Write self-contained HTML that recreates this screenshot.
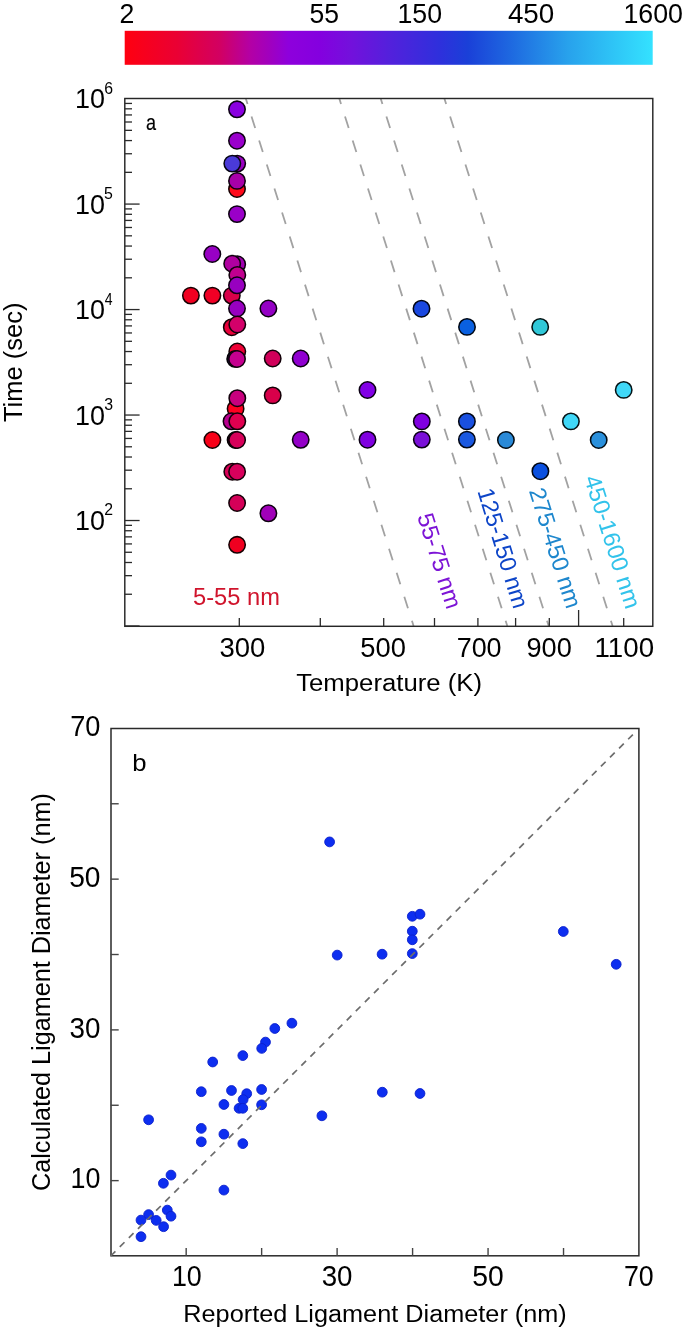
<!DOCTYPE html>
<html><head><meta charset="utf-8"><title>Figure</title>
<style>html,body{margin:0;padding:0;background:#fff;}body{width:685px;height:1330px;overflow:hidden;font-family:"Liberation Sans",sans-serif;}svg{display:block;will-change:transform;}</style>
</head><body>
<svg width="685" height="1330" viewBox="0 0 685 1330">
<rect width="685" height="1330" fill="#fff"/>
<defs><linearGradient id="cb" x1="0" x2="1" y1="0" y2="0">
<stop offset="0" stop-color="#ff0010"/>
<stop offset="0.1" stop-color="#ea0034"/>
<stop offset="0.18" stop-color="#d20062"/>
<stop offset="0.237" stop-color="#b400a4"/>
<stop offset="0.275" stop-color="#a000bf"/>
<stop offset="0.31" stop-color="#8e00dc"/>
<stop offset="0.37" stop-color="#8400df"/>
<stop offset="0.426" stop-color="#7410dc"/>
<stop offset="0.5" stop-color="#5420dc"/>
<stop offset="0.597" stop-color="#2e30dc"/>
<stop offset="0.65" stop-color="#1a40d8"/>
<stop offset="0.73" stop-color="#1e68e0"/>
<stop offset="0.84" stop-color="#28a2ec"/>
<stop offset="1.0" stop-color="#34e2ff"/>
</linearGradient></defs>
<rect x="124.7" y="30.8" width="528" height="34" fill="url(#cb)"/>
<line x1="245.8" y1="98.6" x2="413.6" y2="626.0" stroke="#a2a2a2" stroke-width="1.8" stroke-dasharray="12.1 13.1" stroke-dashoffset="6.4"/>
<line x1="339.3" y1="98.6" x2="507.3" y2="626.0" stroke="#a2a2a2" stroke-width="1.8" stroke-dasharray="12.1 13.1" stroke-dashoffset="6.4"/>
<line x1="380.7" y1="98.6" x2="548.7" y2="626.0" stroke="#a2a2a2" stroke-width="1.8" stroke-dasharray="12.1 13.1" stroke-dashoffset="6.4"/>
<line x1="444.4" y1="98.6" x2="612.6" y2="626.0" stroke="#a2a2a2" stroke-width="1.8" stroke-dasharray="12.1 13.1" stroke-dashoffset="6.4"/>
<rect x="124.8" y="98.5" width="528" height="527.8" fill="none" stroke="#262626" stroke-width="1.45"/>
<line x1="125.0" y1="626.00" x2="139.6" y2="626.00" stroke="#2a2a2a" stroke-width="1.3"/>
<line x1="125.0" y1="594.25" x2="132.0" y2="594.25" stroke="#2a2a2a" stroke-width="1.3"/>
<line x1="125.0" y1="575.67" x2="132.0" y2="575.67" stroke="#2a2a2a" stroke-width="1.3"/>
<line x1="125.0" y1="562.49" x2="132.0" y2="562.49" stroke="#2a2a2a" stroke-width="1.3"/>
<line x1="125.0" y1="552.27" x2="132.0" y2="552.27" stroke="#2a2a2a" stroke-width="1.3"/>
<line x1="125.0" y1="543.92" x2="132.0" y2="543.92" stroke="#2a2a2a" stroke-width="1.3"/>
<line x1="125.0" y1="536.86" x2="132.0" y2="536.86" stroke="#2a2a2a" stroke-width="1.3"/>
<line x1="125.0" y1="530.74" x2="132.0" y2="530.74" stroke="#2a2a2a" stroke-width="1.3"/>
<line x1="125.0" y1="525.35" x2="132.0" y2="525.35" stroke="#2a2a2a" stroke-width="1.3"/>
<line x1="125.0" y1="520.52" x2="139.6" y2="520.52" stroke="#2a2a2a" stroke-width="1.3"/>
<line x1="125.0" y1="488.77" x2="132.0" y2="488.77" stroke="#2a2a2a" stroke-width="1.3"/>
<line x1="125.0" y1="470.19" x2="132.0" y2="470.19" stroke="#2a2a2a" stroke-width="1.3"/>
<line x1="125.0" y1="457.01" x2="132.0" y2="457.01" stroke="#2a2a2a" stroke-width="1.3"/>
<line x1="125.0" y1="446.79" x2="132.0" y2="446.79" stroke="#2a2a2a" stroke-width="1.3"/>
<line x1="125.0" y1="438.44" x2="132.0" y2="438.44" stroke="#2a2a2a" stroke-width="1.3"/>
<line x1="125.0" y1="431.38" x2="132.0" y2="431.38" stroke="#2a2a2a" stroke-width="1.3"/>
<line x1="125.0" y1="425.26" x2="132.0" y2="425.26" stroke="#2a2a2a" stroke-width="1.3"/>
<line x1="125.0" y1="419.87" x2="132.0" y2="419.87" stroke="#2a2a2a" stroke-width="1.3"/>
<line x1="125.0" y1="415.04" x2="139.6" y2="415.04" stroke="#2a2a2a" stroke-width="1.3"/>
<line x1="125.0" y1="383.29" x2="132.0" y2="383.29" stroke="#2a2a2a" stroke-width="1.3"/>
<line x1="125.0" y1="364.71" x2="132.0" y2="364.71" stroke="#2a2a2a" stroke-width="1.3"/>
<line x1="125.0" y1="351.53" x2="132.0" y2="351.53" stroke="#2a2a2a" stroke-width="1.3"/>
<line x1="125.0" y1="341.31" x2="132.0" y2="341.31" stroke="#2a2a2a" stroke-width="1.3"/>
<line x1="125.0" y1="332.96" x2="132.0" y2="332.96" stroke="#2a2a2a" stroke-width="1.3"/>
<line x1="125.0" y1="325.90" x2="132.0" y2="325.90" stroke="#2a2a2a" stroke-width="1.3"/>
<line x1="125.0" y1="319.78" x2="132.0" y2="319.78" stroke="#2a2a2a" stroke-width="1.3"/>
<line x1="125.0" y1="314.39" x2="132.0" y2="314.39" stroke="#2a2a2a" stroke-width="1.3"/>
<line x1="125.0" y1="309.56" x2="139.6" y2="309.56" stroke="#2a2a2a" stroke-width="1.3"/>
<line x1="125.0" y1="277.81" x2="132.0" y2="277.81" stroke="#2a2a2a" stroke-width="1.3"/>
<line x1="125.0" y1="259.23" x2="132.0" y2="259.23" stroke="#2a2a2a" stroke-width="1.3"/>
<line x1="125.0" y1="246.05" x2="132.0" y2="246.05" stroke="#2a2a2a" stroke-width="1.3"/>
<line x1="125.0" y1="235.83" x2="132.0" y2="235.83" stroke="#2a2a2a" stroke-width="1.3"/>
<line x1="125.0" y1="227.48" x2="132.0" y2="227.48" stroke="#2a2a2a" stroke-width="1.3"/>
<line x1="125.0" y1="220.42" x2="132.0" y2="220.42" stroke="#2a2a2a" stroke-width="1.3"/>
<line x1="125.0" y1="214.30" x2="132.0" y2="214.30" stroke="#2a2a2a" stroke-width="1.3"/>
<line x1="125.0" y1="208.91" x2="132.0" y2="208.91" stroke="#2a2a2a" stroke-width="1.3"/>
<line x1="125.0" y1="204.08" x2="139.6" y2="204.08" stroke="#2a2a2a" stroke-width="1.3"/>
<line x1="125.0" y1="172.33" x2="132.0" y2="172.33" stroke="#2a2a2a" stroke-width="1.3"/>
<line x1="125.0" y1="153.75" x2="132.0" y2="153.75" stroke="#2a2a2a" stroke-width="1.3"/>
<line x1="125.0" y1="140.57" x2="132.0" y2="140.57" stroke="#2a2a2a" stroke-width="1.3"/>
<line x1="125.0" y1="130.35" x2="132.0" y2="130.35" stroke="#2a2a2a" stroke-width="1.3"/>
<line x1="125.0" y1="122.00" x2="132.0" y2="122.00" stroke="#2a2a2a" stroke-width="1.3"/>
<line x1="125.0" y1="114.94" x2="132.0" y2="114.94" stroke="#2a2a2a" stroke-width="1.3"/>
<line x1="125.0" y1="108.82" x2="132.0" y2="108.82" stroke="#2a2a2a" stroke-width="1.3"/>
<line x1="125.0" y1="103.43" x2="132.0" y2="103.43" stroke="#2a2a2a" stroke-width="1.3"/>
<line x1="239.3" y1="626.0" x2="239.3" y2="618.0" stroke="#2a2a2a" stroke-width="1.3"/>
<line x1="320.3" y1="626.0" x2="320.3" y2="618.0" stroke="#2a2a2a" stroke-width="1.3"/>
<line x1="383.7" y1="626.0" x2="383.7" y2="618.0" stroke="#2a2a2a" stroke-width="1.3"/>
<line x1="434.5" y1="626.0" x2="434.5" y2="618.0" stroke="#2a2a2a" stroke-width="1.3"/>
<line x1="477.9" y1="626.0" x2="477.9" y2="618.0" stroke="#2a2a2a" stroke-width="1.3"/>
<line x1="515.6" y1="626.0" x2="515.6" y2="618.0" stroke="#2a2a2a" stroke-width="1.3"/>
<line x1="549.3" y1="626.0" x2="549.3" y2="618.0" stroke="#2a2a2a" stroke-width="1.3"/>
<line x1="578.6" y1="626.0" x2="578.6" y2="610.0" stroke="#2a2a2a" stroke-width="1.3"/>
<line x1="623.7" y1="626.0" x2="623.7" y2="618.0" stroke="#2a2a2a" stroke-width="1.3"/>
<circle cx="237.0" cy="109.3" r="8.2" fill="#8a00e0" stroke="#0c0014" stroke-width="1.55"/>
<circle cx="237.0" cy="140.7" r="8.2" fill="#9a00cc" stroke="#0d0012" stroke-width="1.55"/>
<circle cx="237.2" cy="163.6" r="8.2" fill="#9a00c0" stroke="#0d0011" stroke-width="1.55"/>
<circle cx="232.3" cy="163.6" r="8.2" fill="#4a3ad8" stroke="#060513" stroke-width="1.55"/>
<circle cx="237.0" cy="189.0" r="8.2" fill="#ff0a1a" stroke="#160002" stroke-width="1.55"/>
<circle cx="237.0" cy="180.9" r="8.2" fill="#a800a8" stroke="#0f000f" stroke-width="1.55"/>
<circle cx="237.0" cy="214.1" r="8.2" fill="#9a00c8" stroke="#0d0012" stroke-width="1.55"/>
<circle cx="212.3" cy="254.0" r="8.2" fill="#9800c4" stroke="#0d0011" stroke-width="1.55"/>
<circle cx="237.2" cy="264.3" r="8.2" fill="#a000b0" stroke="#0e000f" stroke-width="1.55"/>
<circle cx="232.2" cy="263.7" r="8.2" fill="#b000a0" stroke="#0f000e" stroke-width="1.55"/>
<circle cx="237.3" cy="274.9" r="8.2" fill="#c0008f" stroke="#11000c" stroke-width="1.55"/>
<circle cx="231.8" cy="295.6" r="8.2" fill="#d8004a" stroke="#130006" stroke-width="1.55"/>
<circle cx="237.0" cy="285.3" r="8.2" fill="#9800c0" stroke="#0d0011" stroke-width="1.55"/>
<circle cx="190.9" cy="295.6" r="8.2" fill="#f00020" stroke="#150002" stroke-width="1.55"/>
<circle cx="212.4" cy="295.6" r="8.2" fill="#f00025" stroke="#150003" stroke-width="1.55"/>
<circle cx="237.0" cy="308.5" r="8.2" fill="#9800c0" stroke="#0d0011" stroke-width="1.55"/>
<circle cx="268.4" cy="308.5" r="8.2" fill="#9400c4" stroke="#0d0011" stroke-width="1.55"/>
<circle cx="231.8" cy="327.2" r="8.2" fill="#e8003a" stroke="#140005" stroke-width="1.55"/>
<circle cx="237.3" cy="324.5" r="8.2" fill="#d4006a" stroke="#130009" stroke-width="1.55"/>
<circle cx="237.3" cy="351.5" r="8.2" fill="#ee0035" stroke="#150004" stroke-width="1.55"/>
<circle cx="235.2" cy="358.9" r="8.2" fill="#1a1040" stroke="#020105" stroke-width="1.55"/>
<circle cx="237.0" cy="359.0" r="8.2" fill="#c4008f" stroke="#11000c" stroke-width="1.55"/>
<circle cx="272.7" cy="358.5" r="8.2" fill="#d0005a" stroke="#120008" stroke-width="1.55"/>
<circle cx="300.7" cy="358.5" r="8.2" fill="#9000d0" stroke="#0c0012" stroke-width="1.55"/>
<circle cx="272.7" cy="395.4" r="8.2" fill="#d8004a" stroke="#130006" stroke-width="1.55"/>
<circle cx="235.6" cy="408.7" r="8.2" fill="#ff0020" stroke="#160002" stroke-width="1.55"/>
<circle cx="237.3" cy="398.2" r="8.2" fill="#c8007e" stroke="#12000b" stroke-width="1.55"/>
<circle cx="231.5" cy="421.3" r="8.2" fill="#b8008f" stroke="#10000c" stroke-width="1.55"/>
<circle cx="237.3" cy="421.3" r="8.2" fill="#e00050" stroke="#140007" stroke-width="1.55"/>
<circle cx="212.4" cy="440.0" r="8.2" fill="#f80018" stroke="#160002" stroke-width="1.55"/>
<circle cx="235.6" cy="440.0" r="8.2" fill="#2a0818" stroke="#030002" stroke-width="1.55"/>
<circle cx="237.1" cy="440.0" r="8.2" fill="#d8005a" stroke="#130008" stroke-width="1.55"/>
<circle cx="232.3" cy="471.7" r="8.2" fill="#d80058" stroke="#130007" stroke-width="1.55"/>
<circle cx="237.1" cy="471.7" r="8.2" fill="#d8005c" stroke="#130008" stroke-width="1.55"/>
<circle cx="237.1" cy="503.0" r="8.2" fill="#d40058" stroke="#130007" stroke-width="1.55"/>
<circle cx="268.4" cy="513.3" r="8.2" fill="#a000b8" stroke="#0e0010" stroke-width="1.55"/>
<circle cx="237.1" cy="544.8" r="8.2" fill="#f00020" stroke="#150002" stroke-width="1.55"/>
<circle cx="300.7" cy="439.8" r="8.2" fill="#9400c8" stroke="#0d0012" stroke-width="1.55"/>
<circle cx="367.5" cy="390.0" r="8.2" fill="#8200e6" stroke="#0b0014" stroke-width="1.55"/>
<circle cx="367.5" cy="439.7" r="8.2" fill="#8000e0" stroke="#0b0014" stroke-width="1.55"/>
<circle cx="421.8" cy="421.4" r="8.2" fill="#8000e0" stroke="#0b0014" stroke-width="1.55"/>
<circle cx="421.8" cy="439.6" r="8.2" fill="#7a10d8" stroke="#0a0113" stroke-width="1.55"/>
<circle cx="421.5" cy="308.7" r="8.2" fill="#1a48e0" stroke="#020614" stroke-width="1.55"/>
<circle cx="467.0" cy="326.9" r="8.2" fill="#0a60e0" stroke="#000814" stroke-width="1.55"/>
<circle cx="466.9" cy="421.4" r="8.2" fill="#1a50e0" stroke="#020714" stroke-width="1.55"/>
<circle cx="466.9" cy="439.6" r="8.2" fill="#1a58e0" stroke="#020714" stroke-width="1.55"/>
<circle cx="505.9" cy="440.0" r="8.2" fill="#2a8ad8" stroke="#030c13" stroke-width="1.55"/>
<circle cx="540.2" cy="326.9" r="8.2" fill="#30c8d8" stroke="#041213" stroke-width="1.55"/>
<circle cx="540.4" cy="471.2" r="8.2" fill="#0a50e0" stroke="#000714" stroke-width="1.55"/>
<circle cx="570.9" cy="421.4" r="8.2" fill="#40d8f8" stroke="#051316" stroke-width="1.55"/>
<circle cx="598.7" cy="440.0" r="8.2" fill="#2a90dc" stroke="#030c13" stroke-width="1.55"/>
<circle cx="623.7" cy="389.9" r="8.2" fill="#40d8f8" stroke="#051316" stroke-width="1.55"/>
<rect x="111.0" y="728.5" width="527.9" height="527.3" fill="none" stroke="#2a2a2a" stroke-width="1.5"/>
<line x1="186.17" y1="1256.0" x2="186.17" y2="1248.0" stroke="#444" stroke-width="1.4"/>
<line x1="110.7" y1="1180.63" x2="118.7" y2="1180.63" stroke="#444" stroke-width="1.4"/>
<line x1="261.64" y1="1256.0" x2="261.64" y2="1248.0" stroke="#444" stroke-width="1.4"/>
<line x1="110.7" y1="1105.26" x2="118.7" y2="1105.26" stroke="#444" stroke-width="1.4"/>
<line x1="337.11" y1="1256.0" x2="337.11" y2="1248.0" stroke="#444" stroke-width="1.4"/>
<line x1="110.7" y1="1029.89" x2="118.7" y2="1029.89" stroke="#444" stroke-width="1.4"/>
<line x1="412.59" y1="1256.0" x2="412.59" y2="1248.0" stroke="#444" stroke-width="1.4"/>
<line x1="110.7" y1="954.51" x2="118.7" y2="954.51" stroke="#444" stroke-width="1.4"/>
<line x1="488.06" y1="1256.0" x2="488.06" y2="1248.0" stroke="#444" stroke-width="1.4"/>
<line x1="110.7" y1="879.14" x2="118.7" y2="879.14" stroke="#444" stroke-width="1.4"/>
<line x1="563.53" y1="1256.0" x2="563.53" y2="1248.0" stroke="#444" stroke-width="1.4"/>
<line x1="110.7" y1="803.77" x2="118.7" y2="803.77" stroke="#444" stroke-width="1.4"/>
<circle cx="329.6" cy="841.9" r="4.9" fill="#0d2ef0" stroke="#0b20cc" stroke-width="0.9"/>
<circle cx="412.3" cy="916.3" r="4.9" fill="#0d2ef0" stroke="#0b20cc" stroke-width="0.9"/>
<circle cx="420.0" cy="914.2" r="4.9" fill="#0d2ef0" stroke="#0b20cc" stroke-width="0.9"/>
<circle cx="412.3" cy="931.2" r="4.9" fill="#0d2ef0" stroke="#0b20cc" stroke-width="0.9"/>
<circle cx="412.3" cy="939.8" r="4.9" fill="#0d2ef0" stroke="#0b20cc" stroke-width="0.9"/>
<circle cx="412.3" cy="953.6" r="4.9" fill="#0d2ef0" stroke="#0b20cc" stroke-width="0.9"/>
<circle cx="382.1" cy="954.2" r="4.9" fill="#0d2ef0" stroke="#0b20cc" stroke-width="0.9"/>
<circle cx="337.2" cy="955.1" r="4.9" fill="#0d2ef0" stroke="#0b20cc" stroke-width="0.9"/>
<circle cx="563.3" cy="931.5" r="4.9" fill="#0d2ef0" stroke="#0b20cc" stroke-width="0.9"/>
<circle cx="616.2" cy="964.3" r="4.9" fill="#0d2ef0" stroke="#0b20cc" stroke-width="0.9"/>
<circle cx="291.9" cy="1023.2" r="4.9" fill="#0d2ef0" stroke="#0b20cc" stroke-width="0.9"/>
<circle cx="274.8" cy="1028.5" r="4.9" fill="#0d2ef0" stroke="#0b20cc" stroke-width="0.9"/>
<circle cx="265.5" cy="1042.1" r="4.9" fill="#0d2ef0" stroke="#0b20cc" stroke-width="0.9"/>
<circle cx="261.7" cy="1048.4" r="4.9" fill="#0d2ef0" stroke="#0b20cc" stroke-width="0.9"/>
<circle cx="242.8" cy="1055.6" r="4.9" fill="#0d2ef0" stroke="#0b20cc" stroke-width="0.9"/>
<circle cx="212.7" cy="1062.0" r="4.9" fill="#0d2ef0" stroke="#0b20cc" stroke-width="0.9"/>
<circle cx="201.3" cy="1091.7" r="4.9" fill="#0d2ef0" stroke="#0b20cc" stroke-width="0.9"/>
<circle cx="231.5" cy="1090.5" r="4.9" fill="#0d2ef0" stroke="#0b20cc" stroke-width="0.9"/>
<circle cx="246.7" cy="1093.7" r="4.9" fill="#0d2ef0" stroke="#0b20cc" stroke-width="0.9"/>
<circle cx="243.1" cy="1099.6" r="4.9" fill="#0d2ef0" stroke="#0b20cc" stroke-width="0.9"/>
<circle cx="239.1" cy="1108.3" r="4.9" fill="#0d2ef0" stroke="#0b20cc" stroke-width="0.9"/>
<circle cx="242.8" cy="1108.3" r="4.9" fill="#0d2ef0" stroke="#0b20cc" stroke-width="0.9"/>
<circle cx="223.9" cy="1104.5" r="4.9" fill="#0d2ef0" stroke="#0b20cc" stroke-width="0.9"/>
<circle cx="261.6" cy="1089.5" r="4.9" fill="#0d2ef0" stroke="#0b20cc" stroke-width="0.9"/>
<circle cx="261.6" cy="1104.8" r="4.9" fill="#0d2ef0" stroke="#0b20cc" stroke-width="0.9"/>
<circle cx="148.6" cy="1119.8" r="4.9" fill="#0d2ef0" stroke="#0b20cc" stroke-width="0.9"/>
<circle cx="201.3" cy="1128.4" r="4.9" fill="#0d2ef0" stroke="#0b20cc" stroke-width="0.9"/>
<circle cx="201.3" cy="1141.8" r="4.9" fill="#0d2ef0" stroke="#0b20cc" stroke-width="0.9"/>
<circle cx="223.9" cy="1134.2" r="4.9" fill="#0d2ef0" stroke="#0b20cc" stroke-width="0.9"/>
<circle cx="242.8" cy="1143.6" r="4.9" fill="#0d2ef0" stroke="#0b20cc" stroke-width="0.9"/>
<circle cx="223.9" cy="1190.1" r="4.9" fill="#0d2ef0" stroke="#0b20cc" stroke-width="0.9"/>
<circle cx="321.9" cy="1115.8" r="4.9" fill="#0d2ef0" stroke="#0b20cc" stroke-width="0.9"/>
<circle cx="382.3" cy="1092.2" r="4.9" fill="#0d2ef0" stroke="#0b20cc" stroke-width="0.9"/>
<circle cx="420.0" cy="1093.5" r="4.9" fill="#0d2ef0" stroke="#0b20cc" stroke-width="0.9"/>
<circle cx="171.0" cy="1175.1" r="4.9" fill="#0d2ef0" stroke="#0b20cc" stroke-width="0.9"/>
<circle cx="163.4" cy="1183.3" r="4.9" fill="#0d2ef0" stroke="#0b20cc" stroke-width="0.9"/>
<circle cx="167.3" cy="1210.1" r="4.9" fill="#0d2ef0" stroke="#0b20cc" stroke-width="0.9"/>
<circle cx="171.0" cy="1216.2" r="4.9" fill="#0d2ef0" stroke="#0b20cc" stroke-width="0.9"/>
<circle cx="148.6" cy="1214.6" r="4.9" fill="#0d2ef0" stroke="#0b20cc" stroke-width="0.9"/>
<circle cx="141.0" cy="1220.1" r="4.9" fill="#0d2ef0" stroke="#0b20cc" stroke-width="0.9"/>
<circle cx="156.2" cy="1220.4" r="4.9" fill="#0d2ef0" stroke="#0b20cc" stroke-width="0.9"/>
<circle cx="163.6" cy="1226.7" r="4.9" fill="#0d2ef0" stroke="#0b20cc" stroke-width="0.9"/>
<circle cx="141.0" cy="1236.7" r="4.9" fill="#0d2ef0" stroke="#0b20cc" stroke-width="0.9"/>
<line x1="110.7" y1="1256.0" x2="636.6" y2="730.80" stroke="#6c6c6c" stroke-width="1.7" stroke-dasharray="6.64 6.19"/>
<text transform="translate(119.60,22.75) scale(1.0266,1.0784)" font-size="26" fill="#000" font-family="Liberation Sans, sans-serif">2</text>
<text transform="translate(309.57,22.76) scale(1.0214,1.0949)" font-size="26" fill="#000" font-family="Liberation Sans, sans-serif">55</text>
<text transform="translate(397.50,22.75) scale(1.0285,1.0773)" font-size="26" fill="#000" font-family="Liberation Sans, sans-serif">150</text>
<text transform="translate(507.88,22.75) scale(1.0693,1.0773)" font-size="26" fill="#000" font-family="Liberation Sans, sans-serif">450</text>
<text transform="translate(623.40,22.75) scale(1.0302,1.0773)" font-size="26" fill="#000" font-family="Liberation Sans, sans-serif">1600</text>
<text transform="translate(74.89,530.07) scale(1.0370,1.0884)" font-size="26" fill="#000" font-family="Liberation Sans, sans-serif">10</text>
<text transform="translate(104.19,515.46) scale(1.1292,1.1238)" font-size="14" fill="#000" font-family="Liberation Sans, sans-serif">2</text>
<text transform="translate(74.89,424.59) scale(1.0370,1.0884)" font-size="26" fill="#000" font-family="Liberation Sans, sans-serif">10</text>
<text transform="translate(104.15,410.03) scale(1.1338,1.1283)" font-size="14" fill="#000" font-family="Liberation Sans, sans-serif">3</text>
<text transform="translate(74.89,319.11) scale(1.0370,1.0884)" font-size="26" fill="#000" font-family="Liberation Sans, sans-serif">10</text>
<text transform="translate(104.81,304.50) scale(1.0015,1.1188)" font-size="14" fill="#000" font-family="Liberation Sans, sans-serif">4</text>
<text transform="translate(74.89,213.63) scale(1.0370,1.0884)" font-size="26" fill="#000" font-family="Liberation Sans, sans-serif">10</text>
<text transform="translate(104.07,199.06) scale(1.1364,1.1224)" font-size="14" fill="#000" font-family="Liberation Sans, sans-serif">5</text>
<text transform="translate(74.89,108.15) scale(1.0370,1.0884)" font-size="26" fill="#000" font-family="Liberation Sans, sans-serif">10</text>
<text transform="translate(104.13,93.60) scale(1.1312,1.1300)" font-size="14" fill="#000" font-family="Liberation Sans, sans-serif">6</text>
<text transform="translate(219.41,656.86) scale(1.0567,1.0962)" font-size="26" fill="#000" font-family="Liberation Sans, sans-serif">300</text>
<text transform="translate(360.33,656.87) scale(1.0514,1.0955)" font-size="26" fill="#000" font-family="Liberation Sans, sans-serif">500</text>
<text transform="translate(456.67,656.85) scale(1.0364,1.0939)" font-size="26" fill="#000" font-family="Liberation Sans, sans-serif">700</text>
<text transform="translate(526.50,656.85) scale(1.0452,1.0957)" font-size="26" fill="#000" font-family="Liberation Sans, sans-serif">900</text>
<text transform="translate(594.53,656.85) scale(1.0653,1.0939)" font-size="26" fill="#000" font-family="Liberation Sans, sans-serif">1100</text>
<text transform="translate(296.15,690.71) scale(1.0296,0.9877)" font-size="25" fill="#000" font-family="Liberation Sans, sans-serif">Temperature (K)</text>
<text transform="translate(21.87,422.04) rotate(-90) scale(1.0214,0.9959)" font-size="25" fill="#000" font-family="Liberation Sans, sans-serif">Time (sec)</text>
<text transform="translate(146.00,130.22) scale(0.7224,0.8820)" font-size="25" fill="#000" font-family="Liberation Sans, sans-serif" stroke="#000" stroke-width="0.2">a</text>
<text transform="translate(192.98,605.44) scale(1.0774,1.1126)" font-size="22" fill="#d0142c" font-family="Liberation Sans, sans-serif">5-55 nm</text>
<text transform="translate(70.26,736.19) scale(1.0451,1.1215)" font-size="26" fill="#000" font-family="Liberation Sans, sans-serif">70</text>
<text transform="translate(69.20,886.97) scale(1.0831,1.1232)" font-size="26" fill="#000" font-family="Liberation Sans, sans-serif">50</text>
<text transform="translate(69.60,1037.70) scale(1.0688,1.1238)" font-size="26" fill="#000" font-family="Liberation Sans, sans-serif">30</text>
<text transform="translate(70.59,1188.42) scale(1.0331,1.1215)" font-size="26" fill="#000" font-family="Liberation Sans, sans-serif">10</text>
<text transform="translate(171.89,1286.34) scale(1.0331,1.1160)" font-size="26" fill="#000" font-family="Liberation Sans, sans-serif">10</text>
<text transform="translate(321.70,1286.36) scale(1.0651,1.1183)" font-size="26" fill="#000" font-family="Liberation Sans, sans-serif">30</text>
<text transform="translate(472.19,1286.37) scale(1.0869,1.1176)" font-size="26" fill="#000" font-family="Liberation Sans, sans-serif">50</text>
<text transform="translate(623.98,1286.34) scale(1.0302,1.1160)" font-size="26" fill="#000" font-family="Liberation Sans, sans-serif">70</text>
<text transform="translate(132.31,770.55) scale(1.0280,0.9372)" font-size="25" fill="#000" font-family="Liberation Sans, sans-serif">b</text>
<text transform="translate(183.30,1321.55) scale(1.0114,0.9793)" font-size="25" fill="#000" font-family="Liberation Sans, sans-serif">Reported Ligament Diameter (nm)</text>
<text transform="translate(50.35,1190.99) rotate(-90) scale(1.0087,1.0000)" font-size="25" fill="#000" font-family="Liberation Sans, sans-serif">Calculated Ligament Diameter (nm)</text>
<text transform="translate(416.98,516.25) rotate(72.4) scale(1.0632)" font-size="22" fill="#7d14d6" font-family="Liberation Sans, sans-serif">55-75 nm</text>
<text transform="translate(477.29,491.00) rotate(73) scale(1.0596)" font-size="22" fill="#0d45c8" font-family="Liberation Sans, sans-serif">125-150 nm</text>
<text transform="translate(528.76,490.82) rotate(72.4) scale(1.0642)" font-size="22" fill="#1e87cd" font-family="Liberation Sans, sans-serif">275-450 nm</text>
<text transform="translate(584.11,478.34) rotate(72.4) scale(1.0659)" font-size="22" fill="#32c3eb" font-family="Liberation Sans, sans-serif">450-1600 nm</text>
</svg>
</body></html>
